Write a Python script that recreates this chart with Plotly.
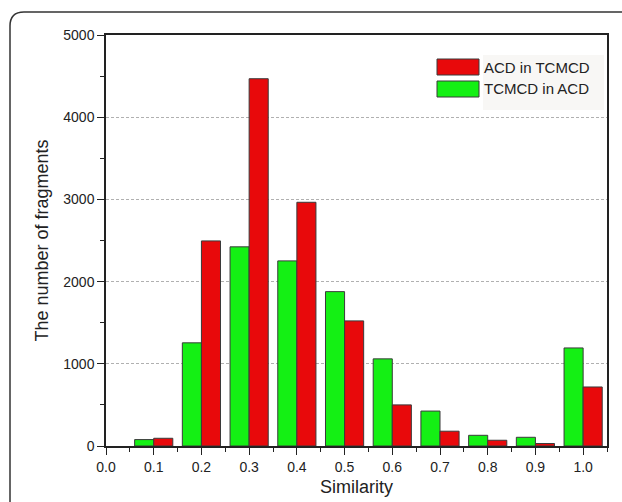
import plotly.graph_objects as go

# Similarity bins and fragment counts for each comparison direction
similarity = [0.1, 0.2, 0.3, 0.4, 0.5, 0.6, 0.7, 0.8, 0.9, 1.0]
acd_in_tcmcd = [94, 2495, 4468, 2965, 1522, 500, 180, 70, 30, 718]
tcmcd_in_acd = [78, 1255, 2423, 2252, 1878, 1060, 425, 130, 106, 1193]
series_names = ["ACD in TCMCD", "TCMCD in ACD"]
y_ticks = [0, 1000, 2000, 3000, 4000, 5000]

RED = "#e8090b"
GREEN = "#14f014"
EDGE = "#3a3a3a"

W, H = 622, 502
L, R, T, B = 106, 15, 35, 56
PW, PH = W - L - R, H - T - B


def px(x):
    return (x - L) / PW


def py(y):
    return (H - B - y) / PH


fig = go.Figure()
fig.add_trace(go.Bar(x=similarity, y=tcmcd_in_acd, name=series_names[1], width=0.04, offset=-0.04,
                     marker=dict(color=GREEN, line=dict(color=EDGE, width=1)), showlegend=False))
fig.add_trace(go.Bar(x=similarity, y=acd_in_tcmcd, name=series_names[0], width=0.04, offset=0.0,
                     marker=dict(color=RED, line=dict(color=EDGE, width=1)), showlegend=False))

font = dict(family="Liberation Sans, Arial, sans-serif", size=14, color="#222")

shapes = []
annotations = []

# Legend block: light panel behind the labels, swatches and text
shapes.append(dict(type="rect", xref="paper", yref="paper", x0=px(483), x1=px(604), y0=py(55), y1=py(110),
                   fillcolor="#f8f7f5", line=dict(width=0), layer="below"))
for i, (name, col) in enumerate([(series_names[0], RED), (series_names[1], GREEN)]):
    top = 59 + i * 22
    shapes.append(dict(type="rect", xref="paper", yref="paper", x0=px(437), x1=px(479),
                       y0=py(top), y1=py(top + 16), fillcolor=col, line=dict(color=EDGE, width=1)))
    annotations.append(dict(text=name, xref="paper", yref="paper", x=px(482), y=py(top + 8),
                            xanchor="left", yanchor="middle", showarrow=False,
                            font=dict(family=font["family"], size=15, color="#222")))

# Rounded outer border
r = 14
path = (f"M {px(10)},{py(520)} L {px(10)},{py(12 + r)} "
        f"Q {px(10)},{py(12)} {px(10 + r)},{py(12)} L {px(640)},{py(12)}")
shapes.append(dict(type="path", xref="paper", yref="paper", path=path, line=dict(color="#333", width=1.5)))

fig.update_layout(
    width=W, height=H, margin=dict(l=L, r=R, t=T, b=B, autoexpand=False),
    paper_bgcolor="white", plot_bgcolor="white",
    barmode="overlay", font=font, showlegend=False,
    shapes=shapes, annotations=annotations,
    xaxis=dict(range=[0, 1.05], tickmode="array", tickvals=[i / 10 for i in range(11)],
               ticktext=[f"{i / 10:.1f}" for i in range(11)], automargin=False,
               ticks="outside", ticklen=7, tickwidth=1.2, tickcolor="#222",
               minor=dict(dtick=0.05, tick0=0.05, ticks="outside", ticklen=4, tickcolor="#222", showgrid=False),
               showline=True, linecolor="#222", linewidth=1.5, mirror=True, showgrid=False, zeroline=False,
               title=dict(text="Similarity", font=dict(size=18), standoff=7), tickfont=dict(size=14)),
    yaxis=dict(range=[0, 5000], tickmode="array", tickvals=y_ticks, ticktext=[str(v) for v in y_ticks],
               automargin=False,
               ticks="outside", ticklen=7, tickwidth=1.2, tickcolor="#222",
               minor=dict(dtick=500, ticks="outside", ticklen=4, tickcolor="#222", showgrid=False),
               showline=True, linecolor="#222", linewidth=1.5, mirror=True,
               showgrid=True, gridcolor="#b0b0b0", griddash="3px,2px", gridwidth=1, zeroline=False,
               title=dict(text="The number of fragments", font=dict(size=18), standoff=10), tickfont=dict(size=14)),
)

fig.write_html("out.html")
